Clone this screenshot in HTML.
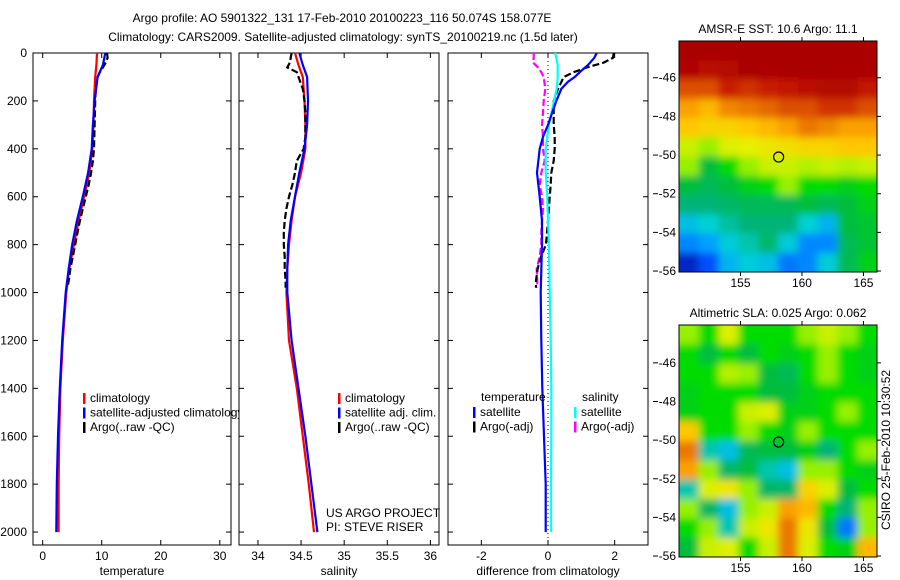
<!DOCTYPE html>
<html><head><meta charset="utf-8"><style>
html,body{margin:0;padding:0;background:#fff;}
svg{display:block;font-family:"Liberation Sans",sans-serif;font-size:12px;}
</style></head><body>
<svg id="fig" width="900" height="580" viewBox="0 0 900 580" xmlns="http://www.w3.org/2000/svg">
<defs>
<filter id="blur" x="-5%" y="-5%" width="110%" height="110%"><feGaussianBlur stdDeviation="4"/></filter>
<clipPath id="clipSst"><rect x="679" y="41" width="198" height="231"/></clipPath>
<clipPath id="clipSla"><rect x="679" y="325" width="198" height="232"/></clipPath>
</defs>
<text x="342" y="22" text-anchor="middle">Argo profile: AO 5901322_131 17-Feb-2010 20100223_116 50.074S 158.077E</text>
<text x="343" y="41" text-anchor="middle">Climatology: CARS2009. Satellite-adjusted climatology: synTS_20100219.nc (1.5d later)</text>
<g id="g1"></g>
<g id="g2"></g>
<g id="g3"></g>
<g id="gm1"></g>
<g id="gm2"></g>
<text transform="translate(890,450) rotate(-90)" text-anchor="middle">CSIRO 25-Feb-2010 10:30:52</text>
</svg>
<script>
// ---- data ----
const tDepth = [0,50,100,200,300,400,500,600,700,800,900,1000,1200,1400,1600,1800,2000];
const tempClim = [9.2,9.1,8.9,8.7,8.6,8.4,7.9,7.0,6.1,5.3,4.5,4.0,3.4,3.0,2.8,2.7,2.7];
const tempSat = [10.6,10.2,9.3,8.8,8.5,8.3,7.7,6.8,5.8,5.0,4.4,3.9,3.3,2.9,2.6,2.4,2.3];
const salClim = [34.43,34.47,34.52,34.54,34.55,34.55,34.5,34.43,34.39,34.36,34.34,34.33,34.36,34.45,34.52,34.59,34.65];
const salSat = [34.48,34.52,34.57,34.58,34.57,34.54,34.48,34.43,34.38,34.35,34.34,34.34,34.39,34.47,34.55,34.62,34.69];
const argoDepth = [0,20,40,60,80,100,150,200,250,300,350,400,450,500,550,600,650,700,750,800,850,900,950,980];
const tempArgo = [10.9,11.0,10.7,10.2,9.7,9.3,9.0,8.9,8.85,8.8,8.75,8.7,8.5,8.2,7.8,7.3,6.8,6.3,5.9,5.5,5.1,4.7,4.4,4.2];
const salArgo = [34.39,34.38,34.37,34.34,34.45,34.47,34.52,34.54,34.55,34.55,34.55,34.53,34.45,34.43,34.40,34.36,34.33,34.31,34.30,34.30,34.31,34.31,34.32,34.32];
const diffDepth = [0,20,50,80,100,120,150,200,300,350,400,500,600,700,800,1000,1200,1400,1600,1800,2000];
const diffTempSat = [1.46,1.39,1.2,0.95,0.8,0.6,0.4,0.25,0.0,-0.15,-0.25,-0.33,-0.25,-0.18,-0.18,-0.22,-0.2,-0.17,-0.12,-0.07,-0.07];
const diffSalSat = [0.21,0.25,0.29,0.29,0.29,0.28,0.26,0.18,0.03,-0.02,-0.07,-0.07,-0.02,0.0,0.03,0.05,0.08,0.1,0.1,0.09,0.09];
const diffTempArgo = [1.97,1.95,1.67,1.17,0.77,0.47,0.3,0.17,0.17,0.17,0.2,0.2,0.17,0.1,0.08,0.05,0.03,0.0,-0.03,-0.06,-0.21,-0.31,-0.36,-0.36];
const diffSalArgo = [-0.43,-0.43,-0.45,-0.3,-0.2,-0.13,-0.08,-0.13,-0.15,-0.18,-0.15,-0.15,-0.1,-0.2,-0.25,-0.18,-0.15,-0.18,-0.2,-0.2,-0.25,-0.34,-0.32,-0.32];
const depthTicks = [0,200,400,600,800,1000,1200,1400,1600,1800,2000];
const tempTicks = [0,10,20,30];
const salTicks = [34,34.5,35,35.5,36];
const salTickLabels = ["34","34.5","35","35.5","36"];
const diffTicks = [-2,0,2];
const lonTicks = [155,160,165];
const latTicks = [-46,-48,-50,-52,-54,-56];
const sstGrid = [
[1,1,1,1,1,1,1,1,1,1],
[.98,.95,.97,1,1,1,1,1,1,1],
[.85,.85,.9,.88,.9,.92,.95,.97,.97,.92],
[.75,.72,.78,.8,.82,.85,.85,.88,.88,.85],
[.7,.68,.68,.7,.72,.75,.8,.78,.75,.75],
[.6,.55,.62,.63,.65,.66,.68,.68,.7,.7],
[.55,.45,.5,.55,.6,.6,.58,.6,.58,.6],
[.45,.42,.45,.48,.5,.55,.5,.5,.48,.5],
[.38,.38,.4,.42,.42,.42,.45,.42,.45,.48],
[.3,.33,.36,.38,.38,.38,.33,.28,.45,.46],
[.22,.25,.32,.35,.4,.32,.22,.22,.42,.46],
[.1,.15,.28,.32,.3,.2,.22,.32,.42,.48]];
const slaGrid = [
[.55,.5,.62,.5,.5,.5,.55,.6,.55,.5],
[.5,.45,.5,.45,.5,.48,.5,.55,.5,.48],
[.5,.5,.58,.55,.45,.42,.5,.55,.5,.48],
[.48,.5,.5,.5,.45,.45,.48,.5,.5,.5],
[.48,.5,.5,.6,.62,.48,.48,.5,.55,.5],
[.7,.5,.5,.55,.5,.48,.55,.5,.5,.5],
[.8,.35,.3,.42,.45,.45,.48,.38,.5,.55],
[.75,.55,.4,.45,.35,.3,.55,.55,.5,.48],
[.35,.62,.65,.55,.4,.4,.68,.62,.45,.5],
[.55,.4,.3,.55,.6,.75,.72,.5,.38,.55],
[.5,.55,.35,.6,.65,.8,.65,.45,.2,.55],
[.45,.6,.62,.5,.6,.8,.62,.5,.48,.72]];
const argoLon = [158.1];
const argoLat = [-50.1];

const NS="http://www.w3.org/2000/svg";
function mk(parent,tag,attrs,txt){const e=document.createElementNS(NS,tag);for(const k in attrs)e.setAttribute(k,attrs[k]);if(txt!==undefined)e.textContent=txt;parent.appendChild(e);return e;}

const Y0=53, Y1=545, dMax=2054;
function yD(d){return Y0+d*(Y1-Y0)/dMax;}

function panel(g,x0,x1,xmin,xmax,ticks,tickLabels,xlabel,showDepthLabels){
  const sx=v=>x0+(v-xmin)*(x1-x0)/(xmax-xmin);
  const frame=mk(g,'rect',{x:x0,y:Y0,width:x1-x0,height:Y1-Y0,fill:'#fff',stroke:'#000','stroke-width':1});
  
  
  depthTicks.forEach(d=>{
    const y=yD(d);
    mk(g,'line',{x1:x0,y1:y,x2:x0+5,y2:y,stroke:'#000'});
    mk(g,'line',{x1:x1,y1:y,x2:x1-5,y2:y,stroke:'#000'});
    if(showDepthLabels){const t=mk(g,'text',{x:x0-6,y:y+4,'text-anchor':'end'},String(d));
      
      }
  });
  ticks.forEach((v,i)=>{
    const x=sx(v);
    mk(g,'line',{x1:x,y1:Y1,x2:x,y2:Y1-5,stroke:'#000'});
    mk(g,'line',{x1:x,y1:Y0,x2:x,y2:Y0+5,stroke:'#000'});
    const t=mk(g,'text',{x:x,y:Y1+15,'text-anchor':'middle'},tickLabels[i]);
    
    
  });
  const xl=mk(g,'text',{x:(x0+x1)/2,y:575,'text-anchor':'middle'},xlabel);
  
  
  return sx;
}
function line(g,sx,depths,vals,color,dash,name){
  const pts=depths.map((d,i)=>sx(vals[i]).toFixed(1)+','+yD(d).toFixed(1)).join(' ');
  const p=mk(g,'polyline',{points:pts,fill:'none',stroke:color,'stroke-width':2.2});
  if(dash)p.setAttribute('stroke-dasharray',dash);
  
  
}
function legend(g,x,y,items){
  items.forEach((it,i)=>{
    const yy=y+i*14.5;
    mk(g,'rect',{x:x,y:yy-9,width:2.5,height:11,fill:it[1]});
    const t=mk(g,'text',{x:x+7,y:yy},it[0]);
    
    
  });
}

const g1=document.getElementById('g1');
const sx1=panel(g1,33,231,-1.64,31.9,tempTicks,tempTicks.map(String),'temperature',true);
line(g1,sx1,tDepth,tempClim,'#f00',null,'temp-climatology-line');
line(g1,sx1,argoDepth,tempArgo,'#000','7,3','temp-argo-line');
line(g1,sx1,tDepth,tempSat,'#00f',null,'temp-satellite-line');
legend(g1,83,402,[['climatology','#f00'],['satellite-adjusted climatology','#00f'],['Argo(..raw -QC)','#000']]);

const g2=document.getElementById('g2');
const sx2=panel(g2,239,439,33.78,36.1,salTicks,salTickLabels,'salinity',false);
line(g2,sx2,tDepth,salClim,'#f00',null,'sal-climatology-line');
line(g2,sx2,argoDepth,salArgo,'#000','7,3','sal-argo-line');
line(g2,sx2,tDepth,salSat,'#00f',null,'sal-satellite-line');
legend(g2,338,402,[['climatology','#f00'],['satellite adj. clim.','#00f'],['Argo(..raw -QC)','#000']]);
const c1=mk(g2,'text',{x:326,y:517},'US ARGO PROJECT');


const c2=mk(g2,'text',{x:326,y:531},'PI: STEVE RISER');



const g3=document.getElementById('g3');
const sx3=panel(g3,448,648,-3,3,diffTicks,diffTicks.map(String),'difference from climatology',false);
mk(g3,'line',{x1:sx3(0),y1:Y0,x2:sx3(0),y2:Y1,stroke:'#000','stroke-dasharray':'1,3'});
line(g3,sx3,argoDepth,diffSalArgo,'#f0f','7,3','sal-diff-argo-line');
line(g3,sx3,argoDepth,diffTempArgo,'#000','7,3','temp-diff-argo-line');
line(g3,sx3,diffDepth,diffSalSat,'#0ff',null,'sal-diff-satellite-line');
line(g3,sx3,diffDepth,diffTempSat,'#00f',null,'temp-diff-satellite-line');
const th=mk(g3,'text',{x:481,y:401},'temperature');


const sh=mk(g3,'text',{x:582,y:401},'salinity');


legend(g3,473,416,[['satellite','#00f'],['Argo(-adj)','#000']]);
legend(g3,574,416,[['satellite','#0ff'],['Argo(-adj)','#f0f']]);

// custom colormap matching reference appearance
const cmapStops=[[0.05,[0,0,140]],[0.15,[0,80,255]],[0.25,[0,160,255]],[0.33,[0,210,210]],[0.38,[0,180,120]],[0.45,[0,190,60]],[0.5,[0,220,0]],[0.55,[150,240,0]],[0.63,[230,240,0]],[0.7,[255,200,0]],[0.75,[250,160,0]],[0.85,[220,80,0]],[0.9,[200,30,0]],[1,[170,0,0]]];
function cmap(v){
  if(v<=cmapStops[0][0])return `rgb(${cmapStops[0][1].join(',')})`;
  for(let i=1;i<cmapStops.length;i++){
    if(v<=cmapStops[i][0]){
      const a=cmapStops[i-1],b=cmapStops[i],t=(v-a[0])/(b[0]-a[0]);
      const c=a[1].map((x,k)=>Math.round(x+(b[1][k]-x)*t));
      return `rgb(${c.join(',')})`;
    }
  }
  return 'rgb(170,0,0)';
}
function mapPanel(g,x0,y0,x1,y1,latTop,grid,clip,title){
  const lonMin=150,lonMax=166.1,latBot=-56.05;
  const sx=v=>x0+(v-lonMin)*(x1-x0)/(lonMax-lonMin);
  const sy=v=>y0+(latTop-v)*(y1-y0)/(latTop-latBot);
  const cg=mk(g,'g',{'clip-path':`url(#${clip})`});
  const bg=mk(cg,'g',{filter:'url(#blur)'});
  const rows=grid.length, cols=grid[0].length;
  const cw=(x1-x0)/cols, ch=(y1-y0)/rows;
  grid.forEach((row,r)=>row.forEach((v,c)=>{
    const cell=mk(bg,'rect',{x:(x0+c*cw-(c==0?10:0)).toFixed(1),y:(y0+r*ch-(r==0?10:0)).toFixed(1),width:(cw+1+(c==0||c==cols-1?10:0)).toFixed(1),height:(ch+1+(r==0||r==rows-1?10:0)).toFixed(1),fill:cmap(v)});
    
    
  }));
  const fr=mk(g,'rect',{x:x0,y:y0,width:x1-x0,height:y1-y0,fill:'none',stroke:'#000'});
  
  
  lonTicks.forEach(v=>{
    const x=sx(v);
    mk(g,'line',{x1:x,y1:y0,x2:x,y2:y0-4,stroke:'#000'});
    mk(g,'line',{x1:x,y1:y1,x2:x,y2:y1+4,stroke:'#000'});
    const t=mk(g,'text',{x:x,y:y1+15,'text-anchor':'middle'},String(v));
    
    
  });
  latTicks.forEach(v=>{
    const y=sy(v);
    mk(g,'line',{x1:653,y1:y,x2:658,y2:y,stroke:'#000'});
    mk(g,'line',{x1:x1,y1:y,x2:x1+4,y2:y,stroke:'#000'});
    const t=mk(g,'text',{x:676,y:y+4,'text-anchor':'end'},String(v));
    
    
  });
  argoLon.forEach((lo,i)=>{
    const c=mk(g,'circle',{cx:sx(lo),cy:sy(argoLat[i]),r:5,fill:'none',stroke:'#000','stroke-width':1.2});
    
    
  });
  const t=mk(g,'text',{x:(x0+x1)/2,y:y0-8,'text-anchor':'middle'},title);
  
  
}
mapPanel(document.getElementById('gm1'),679,41,877,272,-44.1,sstGrid,'clipSst','AMSR-E SST: 10.6 Argo: 11.1');
mapPanel(document.getElementById('gm2'),679,325,877,557,-44.04,slaGrid,'clipSla','Altimetric SLA: 0.025 Argo: 0.062');
</script>
</body></html>
